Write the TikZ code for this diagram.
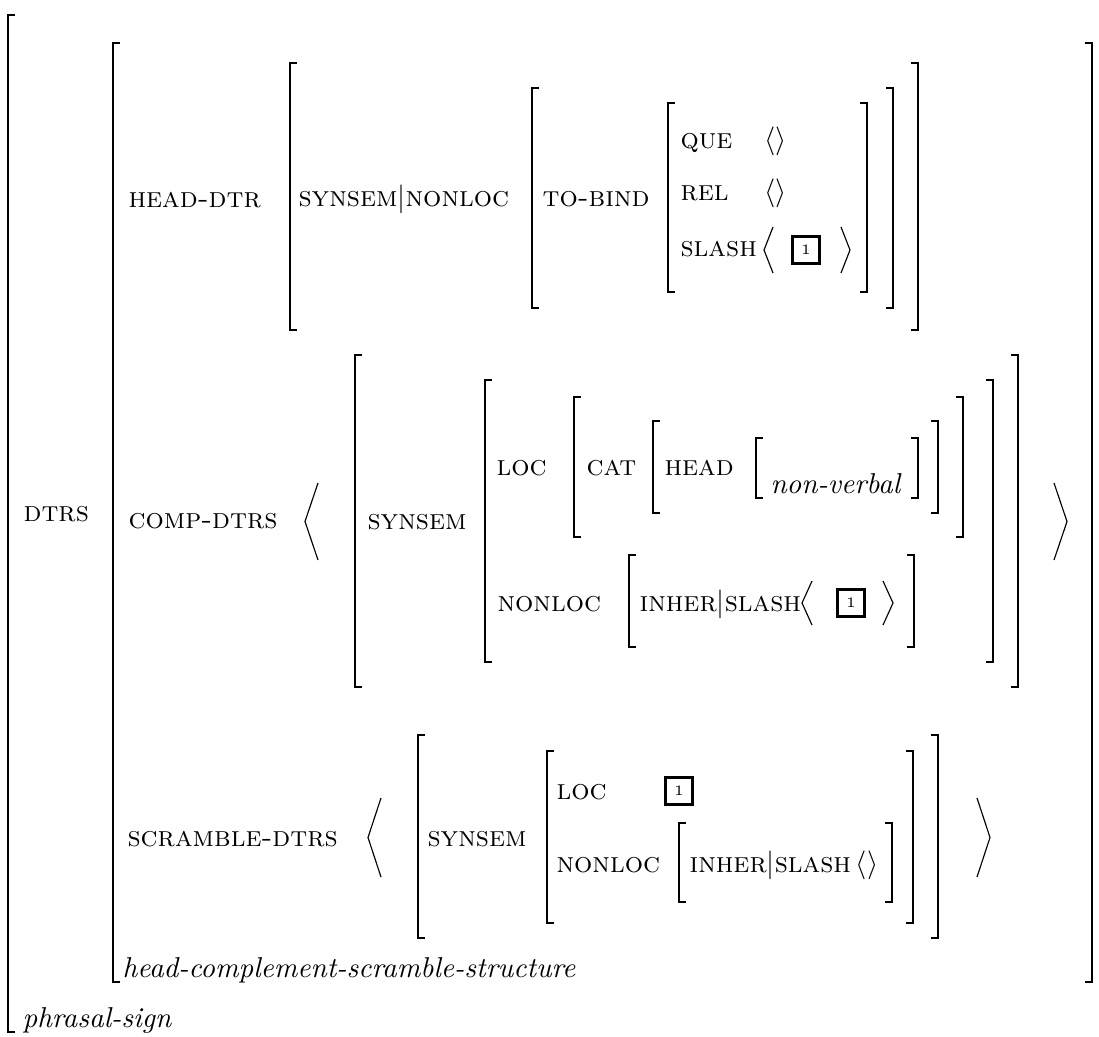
\documentclass[tikz,border=0pt]{standalone}
\usepackage{amsmath}
\usepackage{tikz}

\tikzset{
  brk/.style={line width=0.7pt},
  ang/.style={line width=0.4pt},
  attr/.style={anchor=base west, inner sep=0pt},
  tagbox/.style={draw, line width=0.8pt, minimum size=9.4pt, inner sep=0pt, font=\tiny},
}
% square brackets: left x, right x, top y, bottom y
\newcommand{\sqbrk}[4]{%
  \draw[brk] ({#1+7},#3) -- (#1,#3) -- (#1,#4) -- ({#1+7},#4);
  \draw[brk] ({#2-7},#3) -- (#2,#3) -- (#2,#4) -- ({#2-7},#4);}
% angle brackets: left x, right x, top y, bottom y, width
\newcommand{\angbrk}[5]{%
  \draw[ang] ({#1+#5},#3) -- (#1,{(#3+#4)/2}) -- ({#1+#5},#4);
  \draw[ang] ({#2-#5},#3) -- (#2,{(#3+#4)/2}) -- ({#2-#5},#4);}

\begin{document}
\begin{tikzpicture}[x=0.348pt, y=-0.348pt]
    \useasboundingbox (0,0) rectangle (1099,1036);
    % Draw the outer brackets
    \draw[brk] (15,15) -- (8,15) -- (8,1032) -- (15,1032);
    \sqbrk{113}{1092}{43}{982}
    \node[attr] (dtrs) at (23,521) {\textsc{dtrs}};
    \node[attr] (phrasal) at (22,1027) {\textit{phrasal-sign}};
    \node[attr] (hcs) at (122,977) {\textit{head-complement-scramble-structure}};
    % Draw the head daughter
    \node[attr] (headdtr) at (128,207) {\textsc{head-dtr}};
    \sqbrk{290}{918}{63}{330}
    \node[attr] (hdpath) at (298,206) {\textsc{synsem}$|$\textsc{nonloc}};
    \sqbrk{532}{893}{88}{308}
    \node[attr] (tobind) at (542,206) {\textsc{to-bind}};
    \sqbrk{668}{867}{103}{292}
    \node[attr] (que) at (680,148) {\textsc{que}};
    \node[attr] (queval) at (764,148) {$\langle\rangle$};
    \node[attr] (rel) at (680,200) {\textsc{rel}};
    \node[attr] (relval) at (764,200) {$\langle\rangle$};
    \node[attr] (slash) at (680,256) {\textsc{slash}};
    \angbrk{764}{850}{227}{273}{9}
    \node[tagbox] (tagA) at (806,250) {1};
    % Draw the complement daughters
    \node[attr] (compdtrs) at (128,528) {\textsc{comp-dtrs}};
    \angbrk{305}{1067}{483}{560}{13}
    \sqbrk{355}{1018}{355}{687}
    \node[attr] (csynsem) at (367,529) {\textsc{synsem}};
    \sqbrk{485}{993}{380}{662}
    \node[attr] (cloc) at (496,475) {\textsc{loc}};
    \sqbrk{574}{963}{397}{537}
    \node[attr] (ccat) at (586,475) {\textsc{cat}};
    \sqbrk{653}{938}{421}{513}
    \node[attr] (chead) at (664,475) {\textsc{head}};
    \sqbrk{756}{918}{438}{498}
    \node[attr] (nonverbal) at (770,493) {\textit{non-verbal}};
    \node[attr] (cnonloc) at (497,611) {\textsc{nonloc}};
    \sqbrk{629}{914}{555}{647}
    \node[attr] (cinher) at (639,611) {\textsc{inher}$|$\textsc{slash}};
    \angbrk{802}{893}{581}{625}{10}
    \node[tagbox] (tagB) at (851,603) {1};
    % Draw the scrambled daughters
    \node[attr] (scrdtrs) at (127,846) {\textsc{scramble-dtrs}};
    \angbrk{368}{990}{798}{877}{13}
    \sqbrk{418}{938}{735}{938}
    \node[attr] (ssynsem) at (427,846) {\textsc{synsem}};
    \sqbrk{547}{913}{751}{923}
    \node[attr] (sloc) at (556,799) {\textsc{loc}};
    \node[tagbox] (tagC) at (679,791) {1};
    \node[attr] (snonloc) at (556,872) {\textsc{nonloc}};
    \sqbrk{679}{892}{823}{902}
    \node[attr] (sinher) at (689,872) {\textsc{inher}$|$\textsc{slash}\,$\langle\rangle$};
\end{tikzpicture}
\end{document}
